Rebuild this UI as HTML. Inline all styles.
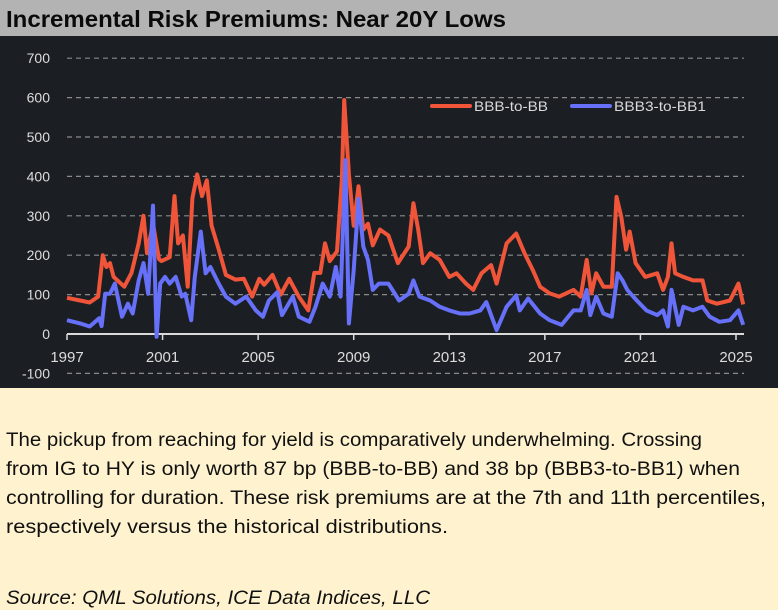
<!DOCTYPE html>
<html><head><meta charset="utf-8"><style>
html,body{margin:0;padding:0;width:778px;height:610px;overflow:hidden;background:#fff3cf;}
svg{display:block;font-family:"Liberation Sans",sans-serif;}
</style></head><body>
<svg id="chart" width="778" height="610">
<rect x="0" y="0" width="778" height="36" fill="#b3b3b3"/>
<text x="6" y="27" font-size="23" font-weight="bold" fill="#0a0a0a" textLength="500" lengthAdjust="spacingAndGlyphs">Incremental Risk Premiums: Near 20Y Lows</text>
<rect x="0" y="36" width="778" height="352" fill="#1b1f23"/>
<g id="grid"></g>
<g id="series"></g>
<g>
<line x1="432" y1="106" x2="470" y2="106" stroke="#f0553a" stroke-width="4" stroke-linecap="round"/>
<text x="474" y="111" font-size="14" fill="#d9d9d9" textLength="74" lengthAdjust="spacingAndGlyphs">BBB-to-BB</text>
<line x1="572" y1="106" x2="610" y2="106" stroke="#6670f8" stroke-width="4" stroke-linecap="round"/>
<text x="614" y="111" font-size="14" fill="#d9d9d9" textLength="92" lengthAdjust="spacingAndGlyphs">BBB3-to-BB1</text>
</g>
<g font-size="19" fill="#111">
<text x="6" y="446" textLength="696" lengthAdjust="spacingAndGlyphs">The pickup from reaching for yield is comparatively underwhelming. Crossing</text>
<text x="6" y="475" textLength="734" lengthAdjust="spacingAndGlyphs">from IG to HY is only worth 87 bp (BBB-to-BB) and 38 bp (BBB3-to-BB1) when</text>
<text x="6" y="504" textLength="760" lengthAdjust="spacingAndGlyphs">controlling for duration. These risk premiums are at the 7th and 11th percentiles,</text>
<text x="6" y="533" textLength="442" lengthAdjust="spacingAndGlyphs">respectively versus the historical distributions.</text>
<text x="6" y="604" font-style="italic" textLength="424" lengthAdjust="spacingAndGlyphs">Source: QML Solutions, ICE Data Indices, LLC</text>
</g>
</svg>
<script>
const yTicks = [700,600,500,400,300,200,100,0,-100];
const xTicks = [1997,2001,2005,2009,2013,2017,2021,2025];
const redYears = [1997.0,1997.55,1997.95,1998.3,1998.5,1998.65,1998.8,1998.95,1999.4,1999.7,2000.0,2000.2,2000.35,2000.6,2000.85,2000.95,2001.3,2001.5,2001.65,2001.85,2002.05,2002.25,2002.45,2002.65,2002.85,2003.05,2003.35,2003.65,2004.05,2004.4,2004.75,2005.05,2005.25,2005.6,2005.95,2006.3,2006.7,2007.1,2007.35,2007.6,2007.8,2008.0,2008.3,2008.5,2008.6,2008.8,2009.0,2009.2,2009.4,2009.6,2009.8,2010.1,2010.45,2010.85,2011.3,2011.5,2011.7,2011.9,2012.2,2012.6,2013.0,2013.3,2013.7,2014.0,2014.35,2014.75,2014.98,2015.4,2015.8,2016.15,2016.5,2016.8,2017.2,2017.6,2018.2,2018.5,2018.75,2018.95,2019.15,2019.45,2019.8,2020.0,2020.2,2020.4,2020.55,2020.8,2021.2,2021.7,2021.95,2022.15,2022.3,2022.45,2022.8,2023.2,2023.6,2023.8,2024.2,2024.75,2025.1,2025.3];
const redValues = [92,85,80,95,200,170,180,145,120,155,230,300,205,280,190,185,195,350,230,250,120,345,405,350,390,275,215,150,138,140,95,140,125,150,100,140,95,60,155,155,230,185,210,390,594,405,275,375,265,280,225,265,250,180,222,332,265,180,205,188,145,154,128,112,154,175,128,230,255,205,162,120,103,95,112,95,188,103,154,120,120,348,297,214,260,180,145,154,112,145,230,154,145,136,136,85,77,85,128,75];
const blueYears = [1997.0,1997.55,1997.95,1998.35,1998.45,1998.6,1998.8,1999.0,1999.3,1999.55,1999.75,2000.0,2000.2,2000.4,2000.6,2000.75,2000.9,2001.1,2001.3,2001.55,2001.8,2001.95,2002.2,2002.35,2002.6,2002.8,2003.0,2003.35,2003.65,2004.05,2004.5,2004.9,2005.2,2005.45,2005.8,2006.0,2006.45,2006.7,2007.15,2007.4,2007.7,2008.0,2008.25,2008.45,2008.65,2008.8,2009.0,2009.2,2009.4,2009.6,2009.8,2010.05,2010.45,2010.9,2011.3,2011.5,2011.75,2012.2,2012.6,2013.0,2013.45,2013.85,2014.3,2014.55,2014.98,2015.4,2015.8,2015.95,2016.3,2016.8,2017.2,2017.7,2018.2,2018.5,2018.75,2018.9,2019.15,2019.45,2019.8,2020.05,2020.25,2020.45,2020.85,2021.25,2021.7,2021.95,2022.15,2022.3,2022.6,2022.8,2023.2,2023.6,2023.9,2024.3,2024.75,2025.1,2025.3];
const blueValues = [35,27,19,40,20,102,102,128,44,77,52,136,180,102,326,-7,128,145,128,145,95,102,35,145,260,154,170,128,95,77,95,60,44,85,106,48,95,44,31,69,128,95,170,95,441,27,162,343,222,188,112,128,128,85,102,136,95,85,69,60,52,52,60,81,10,69,98,60,90,52,35,23,60,60,112,48,95,52,44,154,136,112,85,60,48,60,19,112,23,69,60,69,44,31,35,60,23];

const NS = 'http://www.w3.org/2000/svg';
const x0 = 67, x1 = 736, yr0 = 1997, yr1 = 2025;
const yPix0 = 334, pxPer100 = 39.4;
function xs(v){ return x0 + (v - yr0) * (x1 - x0) / (yr1 - yr0); }
function ys(v){ return yPix0 - v * pxPer100 / 100; }
function mk(tag, attrs, parent){ const e = document.createElementNS(NS, tag); for (const k in attrs) e.setAttribute(k, attrs[k]); parent.appendChild(e); return e; }

const grid = document.getElementById('grid');
yTicks.forEach(t => {
  if (t !== 0) {
    const l = mk('line', {x1: x0, x2: 744, y1: ys(t), y2: ys(t), stroke: '#8a8a8a', 'stroke-width': 1.2, 'stroke-dasharray': '5 4'}, grid);
    
    
  }
  const tx = mk('text', {x: 50, y: ys(t) + 5, 'text-anchor': 'end', 'font-size': 14, fill: '#dcdcdc'}, grid);
  tx.textContent = t;
  
  
});
const ax = mk('line', {x1: x0, x2: 744, y1: ys(0), y2: ys(0), stroke: '#d9d9d9', 'stroke-width': 2}, grid);


xTicks.forEach(t => {
  const tk = mk('line', {x1: xs(t), x2: xs(t), y1: ys(0), y2: ys(0) + 6, stroke: '#d9d9d9', 'stroke-width': 1.5}, grid);
  
  
  const tx = mk('text', {x: xs(t), y: 362, 'text-anchor': 'middle', 'font-size': 15, fill: '#dcdcdc'}, grid);
  tx.textContent = t;
  
  
});

const series = document.getElementById('series');
function path(years, vals){ return years.map((y, i) => (i ? 'L' : 'M') + xs(y).toFixed(1) + ' ' + ys(vals[i]).toFixed(1)).join(' '); }
const pr = mk('path', {d: path(redYears, redValues), fill: 'none', stroke: '#f0553a', 'stroke-width': 4, 'stroke-linejoin': 'round'}, series);


const pb = mk('path', {d: path(blueYears, blueValues), fill: 'none', stroke: '#6670f8', 'stroke-width': 4, 'stroke-linejoin': 'round'}, series);


</script>
</body></html>
